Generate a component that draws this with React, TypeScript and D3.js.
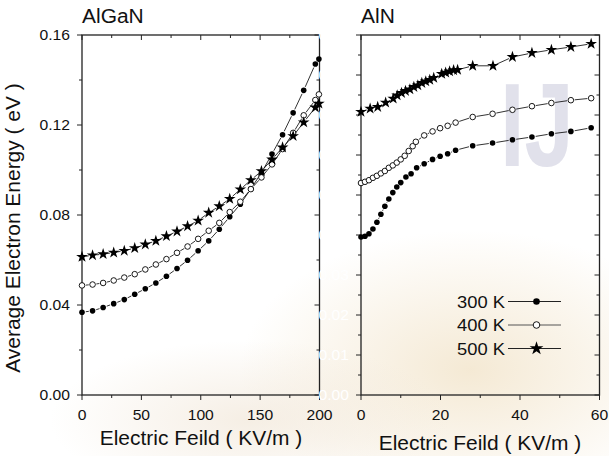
import React from "react";
import * as d3 from "d3";

// ---------- Data ----------
const alganX = [0, 8.9, 17.8, 26.7, 35.6, 44.4, 53.3, 62.2, 71.1, 80, 88.9, 97.8, 106.7, 115.6, 124.4, 133.3, 142.2, 151.1, 160, 168.9, 177.8, 186.7, 196.5, 199.5];
const algan300 = [0.0368, 0.0374, 0.0389, 0.0406, 0.0424, 0.0448, 0.0472, 0.0498, 0.0528, 0.0562, 0.0599, 0.0641, 0.0685, 0.0737, 0.0792, 0.0848, 0.0916, 0.0988, 0.1071, 0.1157, 0.1254, 0.1354, 0.1471, 0.1493];
const algan400 = [0.0487, 0.0491, 0.0498, 0.0509, 0.0522, 0.0537, 0.0558, 0.058, 0.0604, 0.0632, 0.066, 0.0694, 0.073, 0.0765, 0.0813, 0.0859, 0.0915, 0.0967, 0.1025, 0.1093, 0.1165, 0.1243, 0.1311, 0.1336];
const algan500 = [0.0614, 0.0621, 0.0626, 0.0633, 0.0641, 0.0653, 0.0669, 0.0685, 0.0706, 0.0727, 0.075, 0.0775, 0.081, 0.0839, 0.0872, 0.0914, 0.0955, 0.0995, 0.1047, 0.11, 0.1151, 0.1212, 0.1278, 0.1295];

const aln300X = [0, 1, 2, 3, 4, 5, 6, 7, 8, 9, 10, 11.3, 12.6, 14, 15.9, 18, 19.9, 21.8, 23.8, 28.1, 33.1, 38.1, 43, 47.9, 52.8, 57.9];
const aln300 = [0.0395, 0.0397, 0.0403, 0.0415, 0.0432, 0.0452, 0.0472, 0.049, 0.0506, 0.052, 0.0531, 0.0545, 0.0553, 0.0568, 0.0578, 0.0589, 0.0597, 0.0603, 0.0612, 0.0623, 0.063, 0.0638, 0.0645, 0.0653, 0.0659, 0.0668];
const aln400X = [0, 1, 2, 3, 4, 5, 6, 7, 8, 9, 10, 11, 12, 13, 13.8, 15.9, 18, 19.9, 21.8, 23.8, 28.1, 33.1, 38.1, 43, 47.9, 52.8, 57.9];
const aln400 = [0.053, 0.0533, 0.0537, 0.0543, 0.0548, 0.0554, 0.056, 0.0568, 0.0574, 0.0581, 0.0589, 0.0598, 0.061, 0.0622, 0.0633, 0.0649, 0.0659, 0.0667, 0.0673, 0.0681, 0.0695, 0.0703, 0.0713, 0.0722, 0.073, 0.0737, 0.0742];
const aln500X = [0, 2.3, 4.2, 6.2, 8.1, 9.1, 10.2, 11.2, 12.3, 13.3, 14.3, 15.3, 16.3, 17.3, 18.3, 20.3, 21.3, 22.3, 23.3, 24.3, 28.1, 33.2, 38.1, 43, 47.9, 52.8, 57.9];
const aln500 = [0.0708, 0.0716, 0.072, 0.0731, 0.0741, 0.0749, 0.0755, 0.076, 0.0764, 0.077, 0.0774, 0.078, 0.0784, 0.0788, 0.0793, 0.0803, 0.0806, 0.0809, 0.0812, 0.0813, 0.0823, 0.0823, 0.0845, 0.0855, 0.0863, 0.087, 0.0878];

const legendLabels = ["300 K", "400 K", "500 K"];
const leftYTicks = [0, 0.04, 0.08, 0.12, 0.16];
const leftXTicks = [0, 50, 100, 150, 200];
const rightXTicks = [0, 20, 40, 60];
const rightYTicks = [0, 0.01, 0.02, 0.03, 0.04, 0.05, 0.06, 0.07, 0.08, 0.09];

const FONT = "'Liberation Sans', Arial, Helvetica, sans-serif";
const SX = 1.08;

type Kind = "filled" | "open" | "star";

function SText({ x, y, size, anchor = "start", rotate = 0, fill = "#111", children, dy }: any) {
  return (
    <text
      transform={`translate(${x},${y}) rotate(${rotate}) scale(${SX},1)`}
      fontFamily={FONT}
      fontSize={size}
      textAnchor={anchor}
      fill={fill}
      dy={dy}
    >
      {children}
    </text>
  );
}

function Marker({ x, y, kind, r = 2.8 }: { x: number; y: number; kind: Kind; r?: number }) {
  if (kind === "filled") return <circle cx={x} cy={y} r={r} fill="#000" />;
  if (kind === "open") return <circle cx={x} cy={y} r={r} fill="#fff" stroke="#000" strokeWidth={0.9} />;
  const p = d3.symbol().type(d3.symbolStar).size(r * r * 5.4)();
  return <path d={p as string} transform={`translate(${x},${y})`} fill="#000" />;
}

function GappedLine({ pts, gap }: { pts: [number, number][]; gap: number }) {
  const segs: React.ReactNode[] = [];
  for (let i = 0; i < pts.length - 1; i++) {
    const [x1, y1] = pts[i];
    const [x2, y2] = pts[i + 1];
    const dx = x2 - x1, dy = y2 - y1;
    const L = Math.hypot(dx, dy);
    if (L <= 2 * gap + 0.6) continue;
    const ux = dx / L, uy = dy / L;
    segs.push(
      <line key={i} x1={x1 + ux * gap} y1={y1 + uy * gap} x2={x2 - ux * gap} y2={y2 - uy * gap} stroke="#000" strokeWidth={0.8} />
    );
  }
  return <g>{segs}</g>;
}

function Series({ xs, ys, xScale, yScale, kind }: any) {
  const pts: [number, number][] = xs.map((v: number, i: number) => [xScale(v), yScale(ys[i])]);
  return (
    <g>
      <GappedLine pts={pts} gap={3.8} />
      {pts.map(([x, y], i) => (
        <Marker key={i} x={x} y={y} kind={kind} />
      ))}
    </g>
  );
}

function Frame({ xScale, yScale, xMajor, xMinor, yMajor, yMinor, xFmt, yFmt, showY, yLabelFill }: any) {
  const [x0, x1] = xScale.range();
  const [y0, y1] = yScale.range(); // y0 bottom, y1 top
  const ax = "#222";
  const els: React.ReactNode[] = [];
  xMajor.forEach((v: number, i: number) => {
    const x = xScale(v);
    els.push(<line key={`bM${i}`} x1={x} x2={x} y1={y0} y2={y0 + 5} stroke={ax} strokeWidth={1} />);
    els.push(<line key={`tM${i}`} x1={x} x2={x} y1={y1} y2={y1 + 5} stroke={ax} strokeWidth={1} />);
    els.push(
      <SText key={`bl${i}`} x={x} y={y0 + 25} size={14.5} anchor="middle">
        {xFmt(v)}
      </SText>
    );
  });
  xMinor.forEach((v: number, i: number) => {
    const x = xScale(v);
    els.push(<line key={`bm${i}`} x1={x} x2={x} y1={y0} y2={y0 + 3} stroke={ax} strokeWidth={1} />);
    els.push(<line key={`tm${i}`} x1={x} x2={x} y1={y1} y2={y1 + 3} stroke={ax} strokeWidth={1} />);
  });
  yMajor.forEach((v: number, i: number) => {
    const y = yScale(v);
    els.push(<line key={`lM${i}`} x1={x0 - 5} x2={x0} y1={y} y2={y} stroke={ax} strokeWidth={1} />);
    els.push(<line key={`rM${i}`} x1={x1 - 5} x2={x1} y1={y} y2={y} stroke={ax} strokeWidth={1} />);
    els.push(
      <SText key={`ll${i}`} x={x0 - 12} y={y} size={14.5} anchor="end" dy="0.36em" fill={showY ? "#111" : yLabelFill}>
        {yFmt(v)}
      </SText>
    );
  });
  yMinor.forEach((v: number, i: number) => {
    const y = yScale(v);
    els.push(<line key={`lm${i}`} x1={x0 - 3} x2={x0} y1={y} y2={y} stroke={ax} strokeWidth={1} />);
    els.push(<line key={`rm${i}`} x1={x1 - 3} x2={x1} y1={y} y2={y} stroke={ax} strokeWidth={1} />);
  });
  return (
    <g>
      {els}
      <rect x={x0} y={y1} width={x1 - x0} height={y0 - y1} fill="none" stroke={ax} strokeWidth={1.3} />
    </g>
  );
}

export default function App() {
  const W = 609, H = 456;
  const xL = d3.scaleLinear().domain([0, 200]).range([82, 319.5]);
  const yL = d3.scaleLinear().domain([0, 0.16]).range([395, 35]);
  const xR = d3.scaleLinear().domain([0, 60]).range([361, 599.5]);
  const yR = d3.scaleLinear().domain([0, 0.09]).range([395, 35]);

  const leftXMinor = [25, 75, 125, 175];
  const leftYMinor = [0.02, 0.06, 0.1, 0.14];
  const rightXMinor = [10, 30, 50];
  const rightYMinor = [0.005, 0.015, 0.025, 0.035, 0.045, 0.055, 0.065, 0.075, 0.085];

  const legendRows = [
    { label: legendLabels[0], kind: "filled" as Kind, y: 301.5 },
    { label: legendLabels[1], kind: "open" as Kind, y: 325 },
    { label: legendLabels[2], kind: "star" as Kind, y: 348.5 },
  ];

  return (
    <svg width={W} height={H} style={{ position: "absolute", left: 0, top: 0, background: "#fff" }}>
      <defs>
        <radialGradient id="wm1" cx="0.5" cy="0.5" r="0.5">
          <stop offset="0%" stopColor="#f1e2c6" stopOpacity={0.75} />
          <stop offset="100%" stopColor="#f1e2c6" stopOpacity={0} />
        </radialGradient>
        <radialGradient id="wm2" cx="0.5" cy="0.5" r="0.5">
          <stop offset="0%" stopColor="#efe3d2" stopOpacity={0.6} />
          <stop offset="100%" stopColor="#efe3d2" stopOpacity={0} />
        </radialGradient>
      </defs>
      <rect width={W} height={H} fill="#fff" />
      <ellipse cx={470} cy={370} rx={230} ry={140} fill="url(#wm1)" />
      <ellipse cx={250} cy={420} rx={200} ry={80} fill="url(#wm2)" />
      <text transform="translate(500,166) scale(0.75,1)" fontFamily={FONT} fontWeight="bold" fontSize={118} fill="#e1e1eb">
        IJ
      </text>

      {/* Left panel: AlGaN */}
      <Frame
        xScale={xL}
        yScale={yL}
        xMajor={leftXTicks}
        xMinor={leftXMinor}
        yMajor={leftYTicks}
        yMinor={leftYMinor}
        xFmt={(v: number) => String(v)}
        yFmt={(v: number) => v.toFixed(2)}
        showY={true}
      />
      <Series xs={alganX} ys={algan300} xScale={xL} yScale={yL} kind="filled" />
      <Series xs={alganX} ys={algan400} xScale={xL} yScale={yL} kind="open" />
      <Series xs={alganX} ys={algan500} xScale={xL} yScale={yL} kind="star" />

      {/* Right panel: AlN */}
      <Frame
        xScale={xR}
        yScale={yR}
        xMajor={rightXTicks}
        xMinor={rightXMinor}
        yMajor={rightYTicks}
        yMinor={rightYMinor}
        xFmt={(v: number) => String(v)}
        yFmt={(v: number) => v.toFixed(2)}
        showY={false}
        yLabelFill="#ffffff"
      />
      <Series xs={aln300X} ys={aln300} xScale={xR} yScale={yR} kind="filled" />
      <Series xs={aln400X} ys={aln400} xScale={xR} yScale={yR} kind="open" />
      <Series xs={aln500X} ys={aln500} xScale={xR} yScale={yR} kind="star" />

      {/* Legend */}
      {legendRows.map((r, i) => (
        <g key={i}>
          <SText x={505} y={r.y} size={17} anchor="end" dy="0.36em">
            {r.label}
          </SText>
          <line x1={508} x2={561} y1={r.y} y2={r.y} stroke={i === 1 ? "#555" : "#222"} strokeWidth={1} />
          <Marker x={536.5} y={r.y} kind={r.kind} r={3.3} />
        </g>
      ))}

      {/* Titles */}
      <SText x={82} y={23} size={19.4}>AlGaN</SText>
      <SText x={361} y={23} size={19.4}>AlN</SText>
      <SText x={201} y={445} size={19.4} anchor="middle">Electric Feild ( KV/m )</SText>
      <SText x={480} y={450} size={19.4} anchor="middle">Electric Feild ( KV/m )</SText>
      <SText x={20} y={228} size={19.4} anchor="middle" rotate={-90}>Average Electron Energy ( eV )</SText>
    </svg>
  );
}
